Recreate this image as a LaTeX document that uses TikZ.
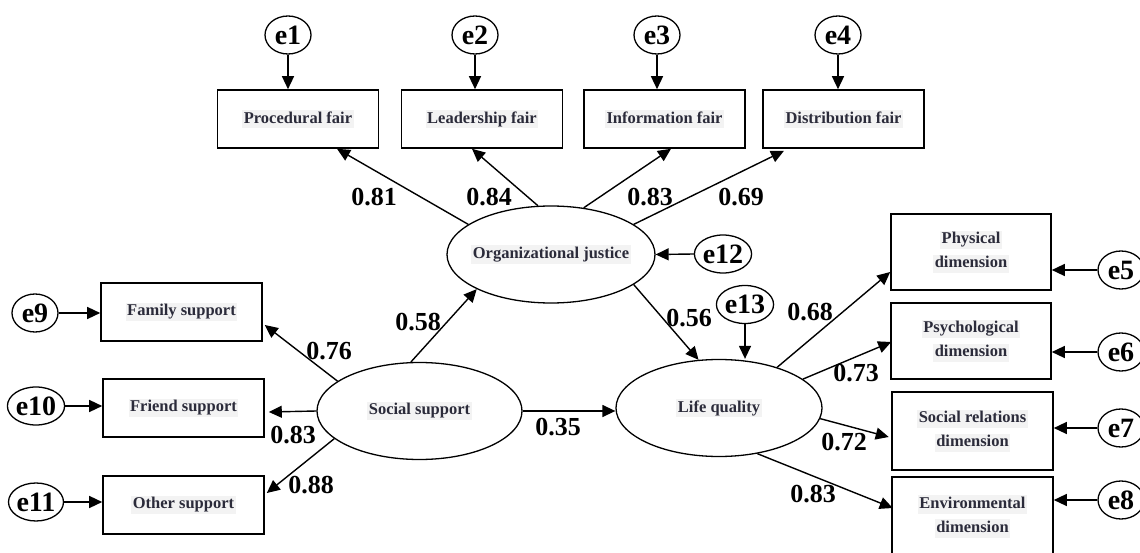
\documentclass[tikz,border=0pt]{standalone}
\usepackage{fontspec}
\setmainfont{Liberation Serif}
\usetikzlibrary{shapes.geometric,arrows.meta,calc}
\definecolor{boxtext}{HTML}{2B2B3A}
\definecolor{hlgray}{HTML}{F3F3F3}
\newcommand{\hlt}[1]{{\setlength{\fboxsep}{1.5pt}\colorbox{hlgray}{\vphantom{Ay}#1}}}
\newcommand{\zw}[1]{\makebox[0pt]{#1}}
\tikzset{
  obs/.style={draw, line width=1.6pt, minimum width=161pt, minimum height=58pt, inner sep=0pt,
    font=\fontsize{16.5}{24}\selectfont\bfseries, text=boxtext, align=center},
  lat/.style={ellipse, draw, line width=1.3pt, inner sep=0pt,
    font=\fontsize{16.5}{20}\selectfont\bfseries, text=boxtext},
  err/.style={ellipse, draw, line width=1.3pt, minimum width=46pt, minimum height=38pt, inner sep=0pt,
    font=\fontsize{28}{28}\selectfont\bfseries},
  num/.style={font=\fontsize{26}{26}\selectfont\bfseries, inner sep=0pt},
  arr/.style={line width=1.4pt, -{Triangle[length=13pt,width=12pt]}}
}
\begin{document}
\begin{tikzpicture}[x=1pt,y=-1pt]
\useasboundingbox (0,0) rectangle (1140,553);
\clip (0,0) rectangle (1140,553);
% top observed
\node[obs] (proc) at (298,119) {\hlt{Procedural fair}};
\node[obs] (lead) at (482,119) {\hlt{Leadership fair}};
\node[obs] (info) at (664.5,119) {\hlt{Information fair}};
\node[obs] (dist) at (843.5,119) {\hlt{Distribution fair}};
\node[err] (e1) at (288,35) {e1};
\node[err] (e2) at (475,35) {e2};
\node[err] (e3) at (657,35) {e3};
\node[err] (e4) at (838,35) {e4};
% latent
\node[lat, minimum width=208pt, minimum height=97pt] (oj) at (551,254.5) {\zw{\hlt{Organizational justice}}};
\node[lat, minimum width=205pt, minimum height=97pt] (soc) at (419.5,411) {\zw{\hlt{Social support}}};
\node[lat, minimum width=206pt, minimum height=97pt] (life) at (719,408) {\zw{\hlt{Life quality}}};
\node[err] (e12) at (723,254) {e12};
\node[err] (e13) at (745,304.5) {e13};
% left observed
\node[obs] (fam) at (181.5,312) {\hlt{Family support}};
\node[obs] (fri) at (183.5,408) {\hlt{Friend support}};
\node[obs] (oth) at (183.5,505) {\hlt{Other support}};
\node[err] (e9) at (35,313) {e9};
\node[err] (e10) at (36,406) {e10};
\node[err] (e11) at (36,502) {e11};
% right observed
\node[obs, minimum width=160pt, minimum height=76pt] (phys) at (971,252) {\hlt{Physical}\\\hlt{dimension}};
\node[obs, minimum width=160pt, minimum height=76pt] (psy) at (971,341) {\hlt{Psychological}\\\hlt{dimension}};
\node[obs, minimum width=161pt, minimum height=78pt] (srel) at (972.5,431) {\hlt{Social relations}\\\hlt{dimension}};
\node[obs, minimum width=161pt, minimum height=79pt] (env) at (972.5,516.5) {\hlt{Environmental}\\\hlt{dimension}};
\node[err] (e5) at (1121,270) {e5};
\node[err] (e6) at (1121,352) {e6};
\node[err] (e7) at (1121,428) {e7};
\node[err] (e8) at (1121,500) {e8};
% error arrows
\foreach \e/\b in {e1/proc,e2/lead,e3/info,e4/dist}{
  \draw[arr] (\e.south) -- (\e.south |- \b.north);
}
\foreach \e/\b in {e9/fam,e10/fri,e11/oth}{
  \draw[arr] (\e.east) -- (\e.east -| \b.west);
}
\foreach \e/\b in {e5/phys,e6/psy,e7/srel,e8/env}{
  \draw[arr] (\e.west) -- (\e.west -| \b.east);
}
\draw[arr] (e12.west) -- (oj.east);
\draw[arr] (e13.south) -- (e13.south |- life.north);
% loadings
\draw[arr] (oj.160) -- ($(proc.south)+(39,0)$);
\draw[arr] (oj.105) -- ($(lead.south)+(-10,0)$);
\draw[arr] (oj.55) -- ($(info.south)+(6.5,0)$);
\draw[arr] (oj.20) -- ($(dist.south)+(-59.5,2)$);
\draw[arr] (soc.160) -- ($(fam.east)+(2,13)$);
\draw[arr] (soc.west) -- ($(fri.east)+(4,4)$);
\draw[arr] (soc.198) -- ($(oth.east)+(2,-12)$);
\draw[arr] (life.35) -- ($(phys.west)+(0,20)$);
\draw[arr] (life.19) -- ($(psy.west)+(1,1)$);
\draw[arr] (life.-6) -- ($(srel.west)+(-2.5,6)$);
\draw[arr] (life.-50) -- ($(env.west)+(1.5,-8.5)$);
% structural
\draw[arr] (soc.100) -- (oj.205.6);
\draw[arr] (oj.-20) -- (life.113);
\draw[arr] (soc.east) -- (soc.east -| life.west);
% numbers
\node[num] (n81) at (374,197) {0.81};
\node[num] (n84) at (489,197) {0.84};
\node[num] (n83a) at (650,197) {0.83};
\node[num] (n69) at (741,197) {0.69};
\node[num] (n58) at (418,322) {0.58};
\node[num] (n76) at (329,351) {0.76};
\node[num] (n83b) at (293,435) {0.83};
\node[num] (n88) at (311,485) {0.88};
\node[num] (n35) at (558,427) {0.35};
\node[num] (n56) at (689,318) {0.56};
\node[num] (n68) at (810,312) {0.68};
\node[num] (n73) at (856,373) {0.73};
\node[num] (n72) at (844,442) {0.72};
\node[num] (n83c) at (813,494) {0.83};
\end{tikzpicture}
\end{document}
